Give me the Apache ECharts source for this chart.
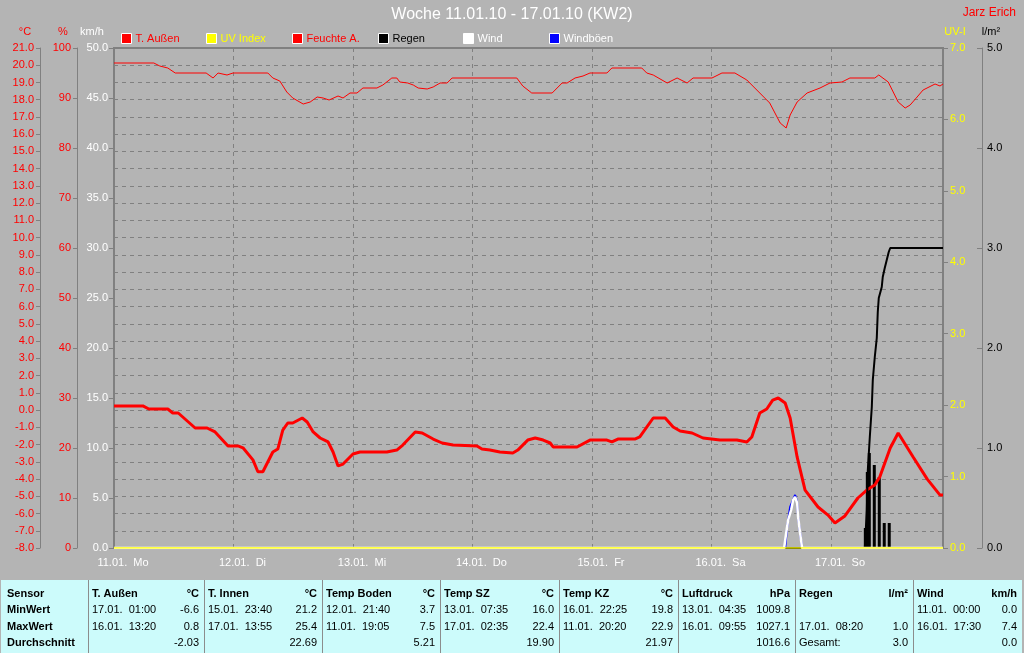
<!DOCTYPE html>
<html><head><meta charset="utf-8">
<script src="https://cdn.jsdelivr.net/npm/echarts@6/dist/echarts.min.js"></script>
<style>html,body{margin:0;padding:0;background:#b4b4b4;}#c{width:1024px;height:653px;}</style>
</head><body><div id="c"></div>
<script>
// ---------- DATA ----------
const dayLabels = ['11.01.  Mo','12.01.  Di','13.01.  Mi','14.01.  Do','15.01.  Fr','16.01.  Sa','17.01.  So'];
const xMaxHours = 166.5;

// [hour since 11.01 00:00, °C]
const tempData = [[0,0.24],[5.8,0.24],[7.0,0.06],[10.8,0.06],[11.8,-0.17],[12.9,-0.17],[16.3,-1.04],[18.7,-1.04],[20.3,-1.27],[22.9,-2.08],[24.9,-2.08],[25.9,-2.19],[27.9,-2.89],[28.9,-3.58],[29.9,-3.58],[31.9,-2.43],[32.9,-2.26],[33.9,-1.16],[34.9,-0.75],[35.9,-0.75],[37.8,-0.46],[38.8,-0.69],[40.0,-1.27],[41.4,-1.62],[43.0,-1.85],[44.0,-2.43],[45.0,-3.24],[46.0,-3.13],[48.0,-2.55],[49.4,-2.43],[54.8,-2.43],[56.8,-2.32],[58.0,-2.03],[60.5,-1.27],[61.9,-1.33],[64.1,-1.68],[65.9,-1.91],[68.1,-2.03],[72.9,-2.08],[73.9,-2.26],[75.5,-2.32],[77.5,-2.43],[80.1,-2.49],[81.1,-2.32],[83.1,-1.74],[84.6,-1.62],[86.2,-1.74],[87.6,-1.91],[88.2,-2.14],[93.0,-2.14],[95.6,-1.74],[99.0,-1.74],[100.0,-1.85],[101.2,-1.68],[104.6,-1.68],[105.6,-1.56],[108.3,-0.46],[110.7,-0.46],[112.3,-0.98],[113.7,-1.21],[116.1,-1.33],[118.3,-1.62],[121.7,-1.74],[125.1,-1.74],[127.1,-1.85],[128.1,-1.56],[129.7,-0.17],[131.1,0.06],[132.3,0.58],[133.4,0.70],[134.8,0.41],[135.8,-0.46],[137.2,-2.72],[138.8,-4.64],[141.4,-5.62],[143.4,-6.09],[144.8,-6.55],[146.8,-6.14],[149.4,-5.10],[151.2,-4.64],[152.8,-4.35],[153.8,-3.88],[155.9,-2.20],[157.5,-1.33],[160.5,-2.72],[163.3,-3.99],[165.9,-4.93],[166.5,-4.93]];

// [hour, %]
const humData = [[0,97.0],[8.0,97.0],[9.2,96.4],[10.8,96.0],[12.3,95.0],[18.5,95.0],[19.9,94.0],[20.9,95.0],[22.7,94.6],[23.9,95.0],[30.9,95.0],[31.9,94.0],[33.3,93.4],[34.7,91.2],[35.9,90.0],[38.0,88.8],[39.4,89.2],[40.8,90.2],[42.0,90.0],[43.2,89.6],[45.0,90.4],[46.0,90.0],[47.4,91.0],[48.8,91.0],[50.0,92.0],[52.8,92.0],[54.0,92.6],[55.8,94.0],[56.8,94.0],[57.4,93.2],[59.0,93.0],[60.1,92.6],[61.1,92.0],[62.9,91.8],[64.1,92.2],[65.5,93.0],[66.9,93.0],[67.9,94.0],[80.9,94.0],[82.1,92.4],[83.9,91.0],[88.0,91.0],[90.0,93.0],[91.0,93.0],[92.6,94.0],[94.2,94.4],[95.6,95.0],[99.0,95.0],[100.0,96.0],[106.0,96.0],[107.0,95.0],[108.3,94.6],[111.1,93.0],[113.1,94.0],[115.1,93.0],[116.3,94.0],[120.1,94.0],[122.1,95.0],[124.7,95.0],[127.1,93.6],[129.7,91.0],[131.7,89.0],[133.8,85.0],[135.0,84.0],[135.8,86.6],[137.2,89.2],[139.2,91.0],[141.8,92.0],[143.8,93.0],[146.2,93.2],[147.8,94.0],[152.8,94.0],[153.6,94.6],[155.5,93.2],[157.5,89.2],[158.9,88.0],[159.9,88.6],[161.3,90.2],[162.5,91.6],[164.9,92.8],[165.9,92.4],[166.5,92.8]];

// [hour, l/m²]
const rainBars = [[150.9,0.2],[151.3,0.76],[151.7,0.95],[152.7,0.83],[153.7,0.71],[154.7,0.25],[155.7,0.25]];
const rainSum = [[0,0],[150.8,0],[151.2,0.38],[151.4,0.78],[151.8,1.11],[152.2,1.41],[152.4,1.68],[152.8,1.91],[153.2,2.10],[153.4,2.36],[153.6,2.50],[154.2,2.61],[154.4,2.71],[154.8,2.80],[155.2,2.88],[155.6,2.96],[155.9,3.0],[166.5,3.0]];

// [hour, km/h]
const windData = [[0,0],[134.6,0],[135.0,1.5],[135.4,2.8],[136.0,3.8],[136.4,4.8],[136.8,5.1],[137.2,4.5],[137.4,3.1],[137.8,1.5],[138.2,0],[166.5,0]];
const gustData = [[0,0],[134.8,0],[135.2,2.1],[135.8,4.1],[136.8,5.3],[137.2,4.6],[137.4,3.1],[137.8,1.5],[138.2,0],[166.5,0]];
// [hour, UV]
const uvData = [[0,0],[166.5,0]];

// summary table
const sensorNames = ['T. Außen','T. Innen','Temp Boden','Temp SZ','Temp KZ','Luftdruck','Regen','Wind'];
const sensorUnits = ['°C','°C','°C','°C','°C','hPa','l/m²','km/h'];
const minTimes = ['17.01.  01:00','15.01.  23:40','12.01.  21:40','13.01.  07:35','16.01.  22:25','13.01.  04:35','','11.01.  00:00'];
const minValues = ['-6.6','21.2','3.7','16.0','19.8','1009.8','','0.0'];
const maxTimes = ['16.01.  13:20','17.01.  13:55','11.01.  19:05','17.01.  02:35','11.01.  20:20','16.01.  09:55','17.01.  08:20','16.01.  17:30'];
const maxValues = ['0.8','25.4','7.5','22.4','22.9','1027.1','1.0','7.4'];
const avgLabels = ['','','','','','','Gesamt:',''];
const avgValues = ['-2.03','22.69','5.21','19.90','21.97','1016.6','3.0','0.0'];
const rowLabels = ['Sensor','MinWert','MaxWert','Durchschnitt'];

// ---------- LAYOUT / STYLE ----------
const FONT = '"Liberation Sans", Arial, sans-serif';
const GRAY = '#808080';
const colSeps = [88, 204, 322, 440, 559, 678, 795, 913, 1022];
const rowY = [594, 610, 627, 643];
const f1 = v => v.toFixed(1);

const graphics = [];
function txt(x, y, s, opt) {
  graphics.push({type:'text', x:x, y:y, silent:true, style:Object.assign({text:s, fill:'#000', font:'11px ' + FONT, textAlign:'left', textVerticalAlign:'middle'}, opt||{})});
}
// top texts
txt(1016, 13, 'Jarz Erich', {fill:'#ff0000', font:'12px ' + FONT, textAlign:'right'});
txt(25, 32, '°C', {fill:'#ff0000', textAlign:'center'});
txt(63, 32, '%', {fill:'#ff0000', textAlign:'center'});
txt(92, 32, 'km/h', {fill:'#ffffff', textAlign:'center'});
txt(955, 32, 'UV-I', {fill:'#ffff00', textAlign:'center'});
txt(991, 32, 'l/m²', {fill:'#000000', textAlign:'center'});

// table
graphics.push({type:'rect', silent:true, shape:{x:1, y:580, width:1021, height:73}, style:{fill:'#ccfbfb'}});
for (let i = 0; i < colSeps.length - 1; i++) {
  graphics.push({type:'line', silent:true, shape:{x1:colSeps[i]+0.5, y1:580, x2:colSeps[i]+0.5, y2:653}, style:{stroke:'#8c8c8c', lineWidth:1}});
}
const BOLD = 'bold 11px ' + FONT;
rowLabels.forEach((r, k) => txt(7, rowY[k], r, {font:BOLD}));
sensorNames.forEach((n, i) => {
  const L = colSeps[i] + 4, R = colSeps[i+1] - 5;
  txt(L, rowY[0], n, {font:BOLD});
  txt(R, rowY[0], sensorUnits[i], {font:BOLD, textAlign:'right'});
  txt(L, rowY[1], minTimes[i]);
  txt(R, rowY[1], minValues[i], {textAlign:'right'});
  txt(L, rowY[2], maxTimes[i]);
  txt(R, rowY[2], maxValues[i], {textAlign:'right'});
  txt(L, rowY[3], avgLabels[i]);
  txt(R, rowY[3], avgValues[i], {textAlign:'right'});
});

// legends (one component per item for fixed spacing)
const legendItems = [
  {name:'T. Außen', left:121, color:'#ff0000'},
  {name:'UV Index', left:206, color:'#ffff00'},
  {name:'Feuchte A.', left:292, color:'#ff0000'},
  {name:'Regen', left:378, color:'#000000'},
  {name:'Wind', left:463, color:'#ffffff'},
  {name:'Windböen', left:549, color:'#ffffff'}
];
const legends = legendItems.map(it => ({
  left: it.left, top: 33, padding: 0, orient:'horizontal',
  itemWidth: 10, itemHeight: 10, icon: 'rect', selectedMode: false,
  itemStyle: {borderColor:'#ffffff', borderWidth:1},
  data: [it.name],
  textStyle: {color: it.color, fontSize: 11, fontFamily: FONT, padding:[0,0,0,-1]}
}));

function yAx(o) {
  return Object.assign({
    type:'value', splitLine:{show:false},
    axisLine:{show:true, lineStyle:{color:GRAY, width:1}},
    axisTick:{show:true, length:4, lineStyle:{color:GRAY}},
  }, o);
}

const option = {
  backgroundColor: '#b4b4b4',
  animation: false,
  title: {
    text: 'Woche 11.01.10 - 17.01.10 (KW2)', left: 'center', top: 7, padding: 0,
    textStyle: {color:'#ffffff', fontSize:16, fontWeight:'normal', fontFamily:FONT}
  },
  legend: legends,
  grid: {left:114, right:81, top:48, bottom:105, containLabel:false, outerBoundsMode:'none',
         show:true, borderColor:GRAY, borderWidth:2, backgroundColor:'transparent'},
  xAxis: {
    type:'value', min:0, max:xMaxHours, interval:24,
    axisLine:{show:false}, axisTick:{show:false},
    splitLine:{show:true, lineStyle:{color:GRAY, type:[4,4], width:1}},
    axisLabel:{color:'#ffffff', fontSize:11, fontFamily:FONT, margin:9, padding:[0,0,0,18],
      showMaxLabel:false,
      formatter: v => (Math.abs(v % 24) < 1e-6 && v / 24 < 7) ? dayLabels[Math.round(v/24)] : ''}
  },
  yAxis: [
    yAx({position:'left', offset:0, min:0, max:50, interval:5,
      axisLine:{show:true, lineStyle:{color:GRAY, width:2}},
      axisTick:{show:true, length:5, lineStyle:{color:GRAY}},
      axisLabel:{color:'#ffffff', fontSize:11, fontFamily:FONT, margin:6, formatter:f1}}),
    yAx({position:'left', offset:74, min:-8, max:21, interval:1,
      splitLine:{show:true, lineStyle:{color:GRAY, type:[4,4], width:1}},
      axisLabel:{color:'#ff0000', fontSize:11, fontFamily:FONT, margin:6, formatter:f1}}),
    yAx({position:'left', offset:37, min:0, max:100, interval:10,
      axisLabel:{color:'#ff0000', fontSize:11, fontFamily:FONT, margin:6}}),
    yAx({position:'right', offset:0, min:0, max:7, interval:1,
      axisLine:{show:false},
      axisTick:{show:true, length:5, lineStyle:{color:GRAY}},
      axisLabel:{color:'#ffff00', fontSize:11, fontFamily:FONT, margin:7, formatter:f1}}),
    yAx({position:'right', offset:39, min:0, max:5, interval:1,
      axisTick:{show:true, inside:true, length:5, lineStyle:{color:GRAY}},
      axisLabel:{color:'#000000', fontSize:11, fontFamily:FONT, margin:5, formatter:f1}})
  ],
  series: [
    {name:'Feuchte A.', type:'line', yAxisIndex:2, data:humData, color:'#ff0000', showSymbol:false, symbol:'none',
      lineStyle:{width:1, color:'#ff0000'}, z:2},
    {name:'Regen', type:'bar', yAxisIndex:4, data:rainBars, color:'#000000', barWidth:3, barGap:'-100%', z:2,
      itemStyle:{color:'#000000'}},
    {name:'T. Außen', type:'line', yAxisIndex:1, data:tempData, color:'#ff0000', showSymbol:false, symbol:'none',
      lineStyle:{width:3, color:'#ff0000'}, z:3},
    {name:'Regen', type:'line', yAxisIndex:4, data:rainSum, color:'#000000', showSymbol:false, symbol:'none',
      lineStyle:{width:2, color:'#000000'}, z:4},
    {name:'Windböen', type:'line', yAxisIndex:0, data:gustData, color:'#0000ff', showSymbol:false, symbol:'none',
      lineStyle:{width:2, color:'#0000ff'}, z:5},
    {name:'Wind', type:'line', yAxisIndex:0, data:windData, color:'#ffffff', showSymbol:false, symbol:'none',
      lineStyle:{width:2.5, color:'#ffffff'}, z:6},
    {name:'UV Index', type:'line', yAxisIndex:3, data:uvData, color:'#ffff00', showSymbol:false, symbol:'none',
      lineStyle:{width:1.5, color:'#ffff00'}, z:7}
  ],
  graphic: graphics
};

const chart = echarts.init(document.getElementById('c'));
chart.setOption(option);
</script>
</body></html>
